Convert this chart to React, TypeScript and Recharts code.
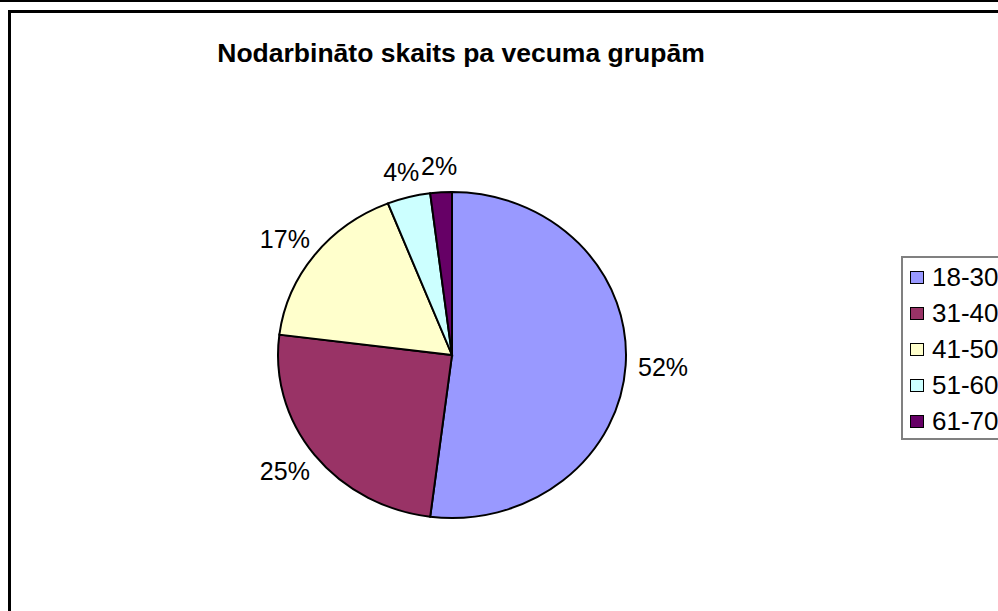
import React from "react";
import { PieChart, Pie, Cell, Legend } from "recharts";

const ageGroups = ["18-30", "31-40", "41-50", "51-60", "61-70"];
const shares = [52, 25, 17, 4, 2];
const sliceColors = ["#9999FF", "#993366", "#FFFFCC", "#CCFFFF", "#660066"];

const data = ageGroups.map((name, i) => ({ name, value: shares[i] }));
const total = shares.reduce((a, b) => a + b, 0);

const FONT = "'Liberation Sans', Arial, Helvetica, sans-serif";
const RAD = Math.PI / 180;
// the pie in the original is slightly squashed vertically
const SQUASH = 163 / 174;
const CX = 452;
const CY = 355;
const R = 174;

const renderLabel = (props: any) => {
    const { cx, cy, midAngle, outerRadius, value } = props;
    const text = `${Math.round((value / total) * 100)}%`;
    const w = text.length * 15;
    const h = 22;
    const cos = Math.cos(-midAngle * RAD);
    const sin = Math.sin(-midAngle * RAD);
    const x = cx + (outerRadius + 15) * cos + (w / 2) * cos;
    const y = cy + (outerRadius * SQUASH + 15) * sin + (h / 2) * sin;
    return (
        <text x={x} y={y} textAnchor="middle" dominantBaseline="central"
              fontSize={25} fontFamily={FONT} fill="#000">
            {text}
        </text>
    );
};

const LegendBox = () => (
    <div style={{
        width: 130, height: 184, border: "2px solid #808080", background: "#fff",
        boxSizing: "border-box", paddingTop: 1, fontFamily: FONT,
    }}>
        {ageGroups.map((g, i) => (
            <div key={g} style={{ display: "flex", alignItems: "center", height: 36 }}>
                <span style={{
                    display: "inline-block", width: 12, height: 11, marginLeft: 7, marginRight: 8,
                    background: sliceColors[i], border: "1.5px solid #000",
                }} />
                <span style={{ fontSize: 26, color: "#000" }}>{g}</span>
            </div>
        ))}
    </div>
);

export default function App() {
    return (
        <div style={{
            position: "absolute", left: 0, top: 0, width: 998, height: 611,
            overflow: "hidden", background: "#fff",
        }}>
            <div style={{ position: "absolute", left: 0, top: 0, width: 998, height: 2, background: "#000" }} />
            <div style={{
                position: "absolute", left: 8, top: 10, width: 1100, height: 700,
                borderLeft: "3px solid #000", borderTop: "3px solid #000",
            }} />
            <div style={{
                position: "absolute", left: 0, top: 38, width: 922, textAlign: "center",
                fontFamily: FONT, fontWeight: "bold", fontSize: 26.5, color: "#000",
            }}>
                Nodarbināto skaits pa vecuma grupām
            </div>
            {/* slices, squashed vertically about the pie centre */}
            <div style={{
                position: "absolute", left: 0, top: 0,
                transform: `scaleY(${SQUASH})`, transformOrigin: `0px ${CY}px`,
            }}>
                <PieChart width={998} height={611} margin={{ top: 0, right: 0, bottom: 0, left: 0 }}>
                    <Pie data={data} dataKey="value" nameKey="name" cx={CX} cy={CY}
                         outerRadius={R} startAngle={90} endAngle={-270}
                         stroke="#000" strokeWidth={2} isAnimationActive={false}>
                        {data.map((d, i) => (
                            <Cell key={d.name} fill={sliceColors[i]} />
                        ))}
                    </Pie>
                </PieChart>
            </div>
            {/* labels and legend, unscaled */}
            <div style={{ position: "absolute", left: 0, top: 0 }}>
                <PieChart width={998} height={611} margin={{ top: 0, right: 0, bottom: 0, left: 0 }}>
                    <Pie data={data} dataKey="value" nameKey="name" cx={CX} cy={CY}
                         outerRadius={R} startAngle={90} endAngle={-270}
                         fill="none" stroke="none" label={renderLabel} labelLine={false}
                         isAnimationActive={false} />
                    <Legend content={<LegendBox />}
                            wrapperStyle={{ position: "absolute", left: 901, top: 256, width: 130 }} />
                </PieChart>
            </div>
        </div>
    );
}
